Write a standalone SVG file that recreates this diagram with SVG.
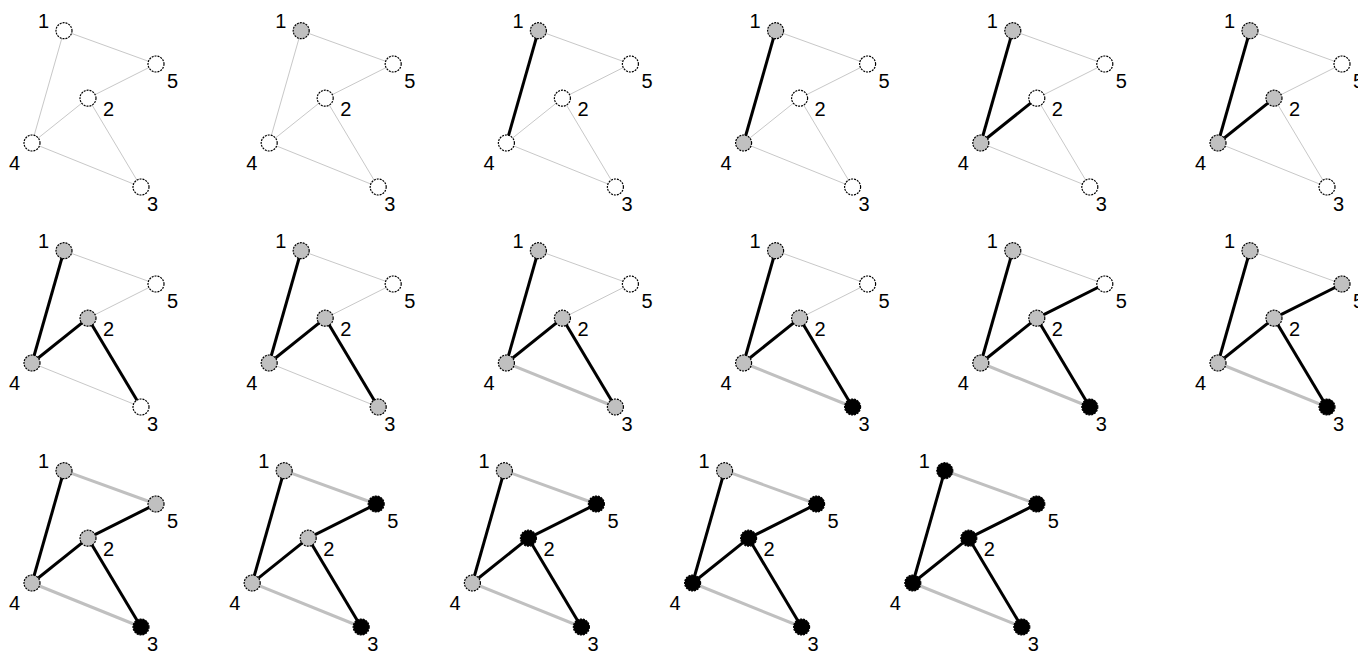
<svg xmlns="http://www.w3.org/2000/svg" width="1358" height="652" viewBox="0 0 1358 652">
<style>
.e{stroke:#c8c8c8;stroke-width:1;fill:none}
.t{stroke:#000;stroke-width:3;fill:none}
.b{stroke:#c0c0c0;stroke-width:3;fill:none}
circle{stroke:#000;stroke-width:1.2;stroke-dasharray:2 1}
.w{fill:#fff}.g{fill:#c0c0c0}.k{fill:#000}
text{font-family:"Liberation Sans",Arial,sans-serif;font-size:20px;fill:#000}
</style>
<rect width="1358" height="652" fill="#fff"/>
<defs>
<line id="e14" x1="0" y1="0" x2="-32" y2="112.3"/>
<line id="e15" x1="0" y1="0" x2="92" y2="33.3"/>
<line id="e25" x1="24" y1="67.5" x2="92" y2="33.3"/>
<line id="e24" x1="24" y1="67.5" x2="-32" y2="112.3"/>
<line id="e23" x1="24" y1="67.5" x2="77" y2="156.3"/>
<line id="e43" x1="-32" y1="112.3" x2="77" y2="156.3"/>
</defs>

<g id="p1" transform="translate(64,30.7)">
<g id="p1-edges"><use href="#e14" class="e"/><use href="#e15" class="e"/><use href="#e25" class="e"/><use href="#e24" class="e"/><use href="#e23" class="e"/><use href="#e43" class="e"/></g>
<g id="p1-n1"><circle cx="0" cy="0" r="8" class="w"/><text x="-26" y="-2.5">1</text></g>
<g id="p1-n5"><circle cx="92" cy="33.3" r="8" class="w"/><text x="103" y="57.5">5</text></g>
<g id="p1-n2"><circle cx="24" cy="67.5" r="8" class="w"/><text x="39" y="85.5">2</text></g>
<g id="p1-n4"><circle cx="-32" cy="112.3" r="8" class="w"/><text x="-55" y="139.5">4</text></g>
<g id="p1-n3"><circle cx="77" cy="156.3" r="8" class="w"/><text x="83" y="180.5">3</text></g>
</g>

<g id="p2" transform="translate(301.2,30.7)">
<g id="p2-edges"><use href="#e14" class="e"/><use href="#e15" class="e"/><use href="#e25" class="e"/><use href="#e24" class="e"/><use href="#e23" class="e"/><use href="#e43" class="e"/></g>
<g id="p2-n1"><circle cx="0" cy="0" r="8" class="g"/><text x="-26" y="-2.5">1</text></g>
<g id="p2-n5"><circle cx="92" cy="33.3" r="8" class="w"/><text x="103" y="57.5">5</text></g>
<g id="p2-n2"><circle cx="24" cy="67.5" r="8" class="w"/><text x="39" y="85.5">2</text></g>
<g id="p2-n4"><circle cx="-32" cy="112.3" r="8" class="w"/><text x="-55" y="139.5">4</text></g>
<g id="p2-n3"><circle cx="77" cy="156.3" r="8" class="w"/><text x="83" y="180.5">3</text></g>
</g>

<g id="p3" transform="translate(538.4,30.7)">
<g id="p3-edges"><use href="#e15" class="e"/><use href="#e25" class="e"/><use href="#e24" class="e"/><use href="#e23" class="e"/><use href="#e43" class="e"/><use href="#e14" class="t"/></g>
<g id="p3-n1"><circle cx="0" cy="0" r="8" class="g"/><text x="-26" y="-2.5">1</text></g>
<g id="p3-n5"><circle cx="92" cy="33.3" r="8" class="w"/><text x="103" y="57.5">5</text></g>
<g id="p3-n2"><circle cx="24" cy="67.5" r="8" class="w"/><text x="39" y="85.5">2</text></g>
<g id="p3-n4"><circle cx="-32" cy="112.3" r="8" class="w"/><text x="-55" y="139.5">4</text></g>
<g id="p3-n3"><circle cx="77" cy="156.3" r="8" class="w"/><text x="83" y="180.5">3</text></g>
</g>

<g id="p4" transform="translate(775.6,30.7)">
<g id="p4-edges"><use href="#e15" class="e"/><use href="#e25" class="e"/><use href="#e24" class="e"/><use href="#e23" class="e"/><use href="#e43" class="e"/><use href="#e14" class="t"/></g>
<g id="p4-n1"><circle cx="0" cy="0" r="8" class="g"/><text x="-26" y="-2.5">1</text></g>
<g id="p4-n5"><circle cx="92" cy="33.3" r="8" class="w"/><text x="103" y="57.5">5</text></g>
<g id="p4-n2"><circle cx="24" cy="67.5" r="8" class="w"/><text x="39" y="85.5">2</text></g>
<g id="p4-n4"><circle cx="-32" cy="112.3" r="8" class="g"/><text x="-55" y="139.5">4</text></g>
<g id="p4-n3"><circle cx="77" cy="156.3" r="8" class="w"/><text x="83" y="180.5">3</text></g>
</g>

<g id="p5" transform="translate(1012.8,30.7)">
<g id="p5-edges"><use href="#e15" class="e"/><use href="#e25" class="e"/><use href="#e23" class="e"/><use href="#e43" class="e"/><use href="#e14" class="t"/><use href="#e24" class="t"/></g>
<g id="p5-n1"><circle cx="0" cy="0" r="8" class="g"/><text x="-26" y="-2.5">1</text></g>
<g id="p5-n5"><circle cx="92" cy="33.3" r="8" class="w"/><text x="103" y="57.5">5</text></g>
<g id="p5-n2"><circle cx="24" cy="67.5" r="8" class="w"/><text x="39" y="85.5">2</text></g>
<g id="p5-n4"><circle cx="-32" cy="112.3" r="8" class="g"/><text x="-55" y="139.5">4</text></g>
<g id="p5-n3"><circle cx="77" cy="156.3" r="8" class="w"/><text x="83" y="180.5">3</text></g>
</g>

<g id="p6" transform="translate(1250,30.7)">
<g id="p6-edges"><use href="#e15" class="e"/><use href="#e25" class="e"/><use href="#e23" class="e"/><use href="#e43" class="e"/><use href="#e14" class="t"/><use href="#e24" class="t"/></g>
<g id="p6-n1"><circle cx="0" cy="0" r="8" class="g"/><text x="-26" y="-2.5">1</text></g>
<g id="p6-n5"><circle cx="92" cy="33.3" r="8" class="w"/><text x="103" y="57.5">5</text></g>
<g id="p6-n2"><circle cx="24" cy="67.5" r="8" class="g"/><text x="39" y="85.5">2</text></g>
<g id="p6-n4"><circle cx="-32" cy="112.3" r="8" class="g"/><text x="-55" y="139.5">4</text></g>
<g id="p6-n3"><circle cx="77" cy="156.3" r="8" class="w"/><text x="83" y="180.5">3</text></g>
</g>

<g id="p7" transform="translate(64,250.7)">
<g id="p7-edges"><use href="#e15" class="e"/><use href="#e25" class="e"/><use href="#e43" class="e"/><use href="#e14" class="t"/><use href="#e24" class="t"/><use href="#e23" class="t"/></g>
<g id="p7-n1"><circle cx="0" cy="0" r="8" class="g"/><text x="-26" y="-2.5">1</text></g>
<g id="p7-n5"><circle cx="92" cy="33.3" r="8" class="w"/><text x="103" y="57.5">5</text></g>
<g id="p7-n2"><circle cx="24" cy="67.5" r="8" class="g"/><text x="39" y="85.5">2</text></g>
<g id="p7-n4"><circle cx="-32" cy="112.3" r="8" class="g"/><text x="-55" y="139.5">4</text></g>
<g id="p7-n3"><circle cx="77" cy="156.3" r="8" class="w"/><text x="83" y="180.5">3</text></g>
</g>

<g id="p8" transform="translate(301.2,250.7)">
<g id="p8-edges"><use href="#e15" class="e"/><use href="#e25" class="e"/><use href="#e43" class="e"/><use href="#e14" class="t"/><use href="#e24" class="t"/><use href="#e23" class="t"/></g>
<g id="p8-n1"><circle cx="0" cy="0" r="8" class="g"/><text x="-26" y="-2.5">1</text></g>
<g id="p8-n5"><circle cx="92" cy="33.3" r="8" class="w"/><text x="103" y="57.5">5</text></g>
<g id="p8-n2"><circle cx="24" cy="67.5" r="8" class="g"/><text x="39" y="85.5">2</text></g>
<g id="p8-n4"><circle cx="-32" cy="112.3" r="8" class="g"/><text x="-55" y="139.5">4</text></g>
<g id="p8-n3"><circle cx="77" cy="156.3" r="8" class="g"/><text x="83" y="180.5">3</text></g>
</g>

<g id="p9" transform="translate(538.4,250.7)">
<g id="p9-edges"><use href="#e15" class="e"/><use href="#e25" class="e"/><use href="#e43" class="b"/><use href="#e14" class="t"/><use href="#e24" class="t"/><use href="#e23" class="t"/></g>
<g id="p9-n1"><circle cx="0" cy="0" r="8" class="g"/><text x="-26" y="-2.5">1</text></g>
<g id="p9-n5"><circle cx="92" cy="33.3" r="8" class="w"/><text x="103" y="57.5">5</text></g>
<g id="p9-n2"><circle cx="24" cy="67.5" r="8" class="g"/><text x="39" y="85.5">2</text></g>
<g id="p9-n4"><circle cx="-32" cy="112.3" r="8" class="g"/><text x="-55" y="139.5">4</text></g>
<g id="p9-n3"><circle cx="77" cy="156.3" r="8" class="g"/><text x="83" y="180.5">3</text></g>
</g>

<g id="p10" transform="translate(775.6,250.7)">
<g id="p10-edges"><use href="#e15" class="e"/><use href="#e25" class="e"/><use href="#e43" class="b"/><use href="#e14" class="t"/><use href="#e24" class="t"/><use href="#e23" class="t"/></g>
<g id="p10-n1"><circle cx="0" cy="0" r="8" class="g"/><text x="-26" y="-2.5">1</text></g>
<g id="p10-n5"><circle cx="92" cy="33.3" r="8" class="w"/><text x="103" y="57.5">5</text></g>
<g id="p10-n2"><circle cx="24" cy="67.5" r="8" class="g"/><text x="39" y="85.5">2</text></g>
<g id="p10-n4"><circle cx="-32" cy="112.3" r="8" class="g"/><text x="-55" y="139.5">4</text></g>
<g id="p10-n3"><circle cx="77" cy="156.3" r="8" class="k"/><text x="83" y="180.5">3</text></g>
</g>

<g id="p11" transform="translate(1012.8,250.7)">
<g id="p11-edges"><use href="#e15" class="e"/><use href="#e43" class="b"/><use href="#e14" class="t"/><use href="#e24" class="t"/><use href="#e23" class="t"/><use href="#e25" class="t"/></g>
<g id="p11-n1"><circle cx="0" cy="0" r="8" class="g"/><text x="-26" y="-2.5">1</text></g>
<g id="p11-n5"><circle cx="92" cy="33.3" r="8" class="w"/><text x="103" y="57.5">5</text></g>
<g id="p11-n2"><circle cx="24" cy="67.5" r="8" class="g"/><text x="39" y="85.5">2</text></g>
<g id="p11-n4"><circle cx="-32" cy="112.3" r="8" class="g"/><text x="-55" y="139.5">4</text></g>
<g id="p11-n3"><circle cx="77" cy="156.3" r="8" class="k"/><text x="83" y="180.5">3</text></g>
</g>

<g id="p12" transform="translate(1250,250.7)">
<g id="p12-edges"><use href="#e15" class="e"/><use href="#e43" class="b"/><use href="#e14" class="t"/><use href="#e24" class="t"/><use href="#e23" class="t"/><use href="#e25" class="t"/></g>
<g id="p12-n1"><circle cx="0" cy="0" r="8" class="g"/><text x="-26" y="-2.5">1</text></g>
<g id="p12-n5"><circle cx="92" cy="33.3" r="8" class="g"/><text x="103" y="57.5">5</text></g>
<g id="p12-n2"><circle cx="24" cy="67.5" r="8" class="g"/><text x="39" y="85.5">2</text></g>
<g id="p12-n4"><circle cx="-32" cy="112.3" r="8" class="g"/><text x="-55" y="139.5">4</text></g>
<g id="p12-n3"><circle cx="77" cy="156.3" r="8" class="k"/><text x="83" y="180.5">3</text></g>
</g>

<g id="p13" transform="translate(64,470.7)">
<g id="p13-edges"><use href="#e15" class="b"/><use href="#e43" class="b"/><use href="#e14" class="t"/><use href="#e24" class="t"/><use href="#e23" class="t"/><use href="#e25" class="t"/></g>
<g id="p13-n1"><circle cx="0" cy="0" r="8" class="g"/><text x="-26" y="-2.5">1</text></g>
<g id="p13-n5"><circle cx="92" cy="33.3" r="8" class="g"/><text x="103" y="57.5">5</text></g>
<g id="p13-n2"><circle cx="24" cy="67.5" r="8" class="g"/><text x="39" y="85.5">2</text></g>
<g id="p13-n4"><circle cx="-32" cy="112.3" r="8" class="g"/><text x="-55" y="139.5">4</text></g>
<g id="p13-n3"><circle cx="77" cy="156.3" r="8" class="k"/><text x="83" y="180.5">3</text></g>
</g>

<g id="p14" transform="translate(284.2,470.7)">
<g id="p14-edges"><use href="#e15" class="b"/><use href="#e43" class="b"/><use href="#e14" class="t"/><use href="#e24" class="t"/><use href="#e23" class="t"/><use href="#e25" class="t"/></g>
<g id="p14-n1"><circle cx="0" cy="0" r="8" class="g"/><text x="-26" y="-2.5">1</text></g>
<g id="p14-n5"><circle cx="92" cy="33.3" r="8" class="k"/><text x="103" y="57.5">5</text></g>
<g id="p14-n2"><circle cx="24" cy="67.5" r="8" class="g"/><text x="39" y="85.5">2</text></g>
<g id="p14-n4"><circle cx="-32" cy="112.3" r="8" class="g"/><text x="-55" y="139.5">4</text></g>
<g id="p14-n3"><circle cx="77" cy="156.3" r="8" class="k"/><text x="83" y="180.5">3</text></g>
</g>

<g id="p15" transform="translate(504.4,470.7)">
<g id="p15-edges"><use href="#e15" class="b"/><use href="#e43" class="b"/><use href="#e14" class="t"/><use href="#e24" class="t"/><use href="#e23" class="t"/><use href="#e25" class="t"/></g>
<g id="p15-n1"><circle cx="0" cy="0" r="8" class="g"/><text x="-26" y="-2.5">1</text></g>
<g id="p15-n5"><circle cx="92" cy="33.3" r="8" class="k"/><text x="103" y="57.5">5</text></g>
<g id="p15-n2"><circle cx="24" cy="67.5" r="8" class="k"/><text x="39" y="85.5">2</text></g>
<g id="p15-n4"><circle cx="-32" cy="112.3" r="8" class="g"/><text x="-55" y="139.5">4</text></g>
<g id="p15-n3"><circle cx="77" cy="156.3" r="8" class="k"/><text x="83" y="180.5">3</text></g>
</g>

<g id="p16" transform="translate(724.6,470.7)">
<g id="p16-edges"><use href="#e15" class="b"/><use href="#e43" class="b"/><use href="#e14" class="t"/><use href="#e24" class="t"/><use href="#e23" class="t"/><use href="#e25" class="t"/></g>
<g id="p16-n1"><circle cx="0" cy="0" r="8" class="g"/><text x="-26" y="-2.5">1</text></g>
<g id="p16-n5"><circle cx="92" cy="33.3" r="8" class="k"/><text x="103" y="57.5">5</text></g>
<g id="p16-n2"><circle cx="24" cy="67.5" r="8" class="k"/><text x="39" y="85.5">2</text></g>
<g id="p16-n4"><circle cx="-32" cy="112.3" r="8" class="k"/><text x="-55" y="139.5">4</text></g>
<g id="p16-n3"><circle cx="77" cy="156.3" r="8" class="k"/><text x="83" y="180.5">3</text></g>
</g>

<g id="p17" transform="translate(944.8,470.7)">
<g id="p17-edges"><use href="#e15" class="b"/><use href="#e43" class="b"/><use href="#e14" class="t"/><use href="#e24" class="t"/><use href="#e23" class="t"/><use href="#e25" class="t"/></g>
<g id="p17-n1"><circle cx="0" cy="0" r="8" class="k"/><text x="-26" y="-2.5">1</text></g>
<g id="p17-n5"><circle cx="92" cy="33.3" r="8" class="k"/><text x="103" y="57.5">5</text></g>
<g id="p17-n2"><circle cx="24" cy="67.5" r="8" class="k"/><text x="39" y="85.5">2</text></g>
<g id="p17-n4"><circle cx="-32" cy="112.3" r="8" class="k"/><text x="-55" y="139.5">4</text></g>
<g id="p17-n3"><circle cx="77" cy="156.3" r="8" class="k"/><text x="83" y="180.5">3</text></g>
</g>
</svg>
